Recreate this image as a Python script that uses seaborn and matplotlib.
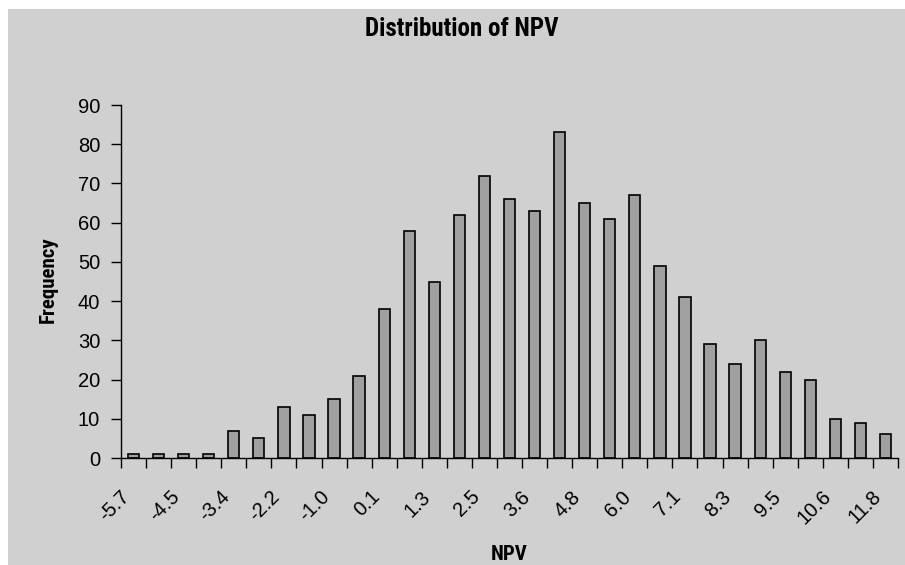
import matplotlib
matplotlib.use("Agg")
import matplotlib.pyplot as plt
import matplotlib.transforms as mtransforms
import seaborn as sns
import numpy as np
import pandas as pd
from matplotlib import font_manager
from matplotlib.font_manager import FontProperties
from matplotlib.patches import Rectangle

bins = ["-5.7", "-5.1", "-4.5", "-4.0", "-3.4", "-2.8", "-2.2", "-1.6", "-1.0", "-0.5",
        "0.1", "0.7", "1.3", "1.9", "2.5", "3.1", "3.6", "4.2", "4.8", "5.4",
        "6.0", "6.5", "7.1", "7.7", "8.3", "8.9", "9.5", "10.0", "10.6", "11.2", "11.8"]
freq = [1, 1, 1, 1, 7, 5, 13, 11, 15, 21,
        38, 58, 45, 62, 72, 66, 63, 83, 65, 61,
        67, 49, 41, 29, 24, 30, 22, 20, 10, 9, 6]
yticks = [0, 10, 20, 30, 40, 50, 60, 70, 80, 90]

fonts = font_manager.fontManager.ttflist
names = {f.name for f in fonts}
regular = "Liberation Sans" if "Liberation Sans" in names else "DejaVu Sans"


def wnum(w):
    if isinstance(w, int):
        return w
    return font_manager.weight_dict.get(str(w), 400)


def pick_narrow_bold():
    prefs = ["Liberation Sans Narrow", "Roboto Condensed", "Open Sans Condensed",
             "Noto Sans Condensed", "DejaVu Sans Condensed"]
    cands = [f for f in fonts if ("Narrow" in f.name or "Condensed" in f.name
                                  or "ondensed" in f.fname or "Narrow" in f.fname)
             and wnum(f.weight) >= 600 and f.style == "normal"]
    for p in prefs:
        for f in cands:
            if f.name == p or p.replace(" ", "") in f.fname.replace(" ", ""):
                return f.fname
    if cands:
        return cands[0].fname
    return None


nb = pick_narrow_bold()
if nb:
    boldprop = FontProperties(fname=nb)
else:
    boldprop = FontProperties(family=regular, weight="bold")

sns.set_theme(style="ticks")
plt.rcParams["font.family"] = [regular, "DejaVu Sans"]

bg = "#d0d0d0"
fig = plt.figure(figsize=(9.05, 5.65), dpi=100, facecolor="white")
fig.patches.append(Rectangle((8 / 905, 0), 1, 1 - 9 / 565, transform=fig.transFigure,
                             facecolor=bg, edgecolor="none", zorder=-10))
ax = fig.add_axes([121 / 905, 1 - 458 / 565, (898 - 121) / 905, (458 - 105) / 565])
ax.set_facecolor(bg)
ax.set_zorder(5)

df = pd.DataFrame({"NPV": bins, "Frequency": freq})
sns.barplot(data=df, x="NPV", y="Frequency", order=bins, color="#a0a0a0",
            edgecolor="black", linewidth=1.2, width=0.45, saturation=1, ax=ax)

ax.set_xlim(-0.5, len(bins) - 0.5)
ax.set_ylim(0, 90)
ax.set_yticks(yticks)
ax.set_yticklabels([str(v) for v in yticks], fontsize=14.5, color="black")
ax.tick_params(axis="y", length=7, width=1, color="black", pad=8)

major = list(range(0, len(bins), 2))
ax.set_xticks(major)
ax.set_xticklabels([bins[i] for i in major], rotation=45, ha="right",
                   rotation_mode="anchor", fontsize=14.5, color="black")
ax.tick_params(axis="x", which="major", length=0, pad=21)
ax.set_xticks(np.arange(-0.5, len(bins), 1), minor=True)
ax.tick_params(axis="x", which="minor", length=7, width=1, color="black")
shift = mtransforms.ScaledTranslation(-14 / 100, 0, fig.dpi_scale_trans)
for t in ax.get_xticklabels():
    t.set_transform(t.get_transform() + shift)

for s in ["top", "right"]:
    ax.spines[s].set_visible(False)
for s in ["left", "bottom"]:
    ax.spines[s].set_color("black")
    ax.spines[s].set_linewidth(1)

ax.set_xlabel("")
ax.set_ylabel("")


def btext(x, y, s, size, **kw):
    p = boldprop.copy()
    p.set_size(size)
    fig.text(x, y, s, ha="center", va="center", color="black", fontproperties=p, **kw)


btext(462 / 905, 1 - 29 / 565, "Distribution of NPV", 18)
btext(509 / 905, 1 - 555 / 565, "NPV", 15)
btext(48 / 905, 1 - 280 / 565, "Frequency", 15, rotation=90)

fig.savefig("out.png", dpi=100, facecolor="white")
